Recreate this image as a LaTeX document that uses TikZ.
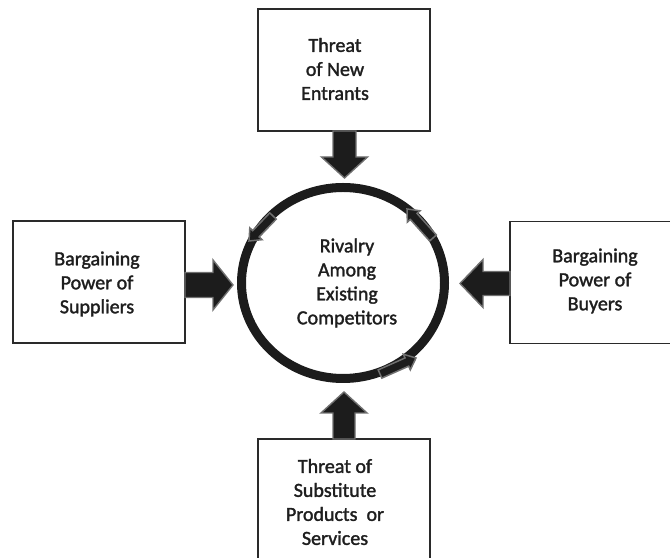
\documentclass[tikz,border=0pt]{standalone}
\usepackage{fontspec}
\setmainfont{Carlito}[FakeBold=1.6]
\usetikzlibrary{calc,shapes.geometric}

\definecolor{ink}{HTML}{1C1C1C}
\definecolor{edgegrey}{HTML}{707070}
\definecolor{boxline}{HTML}{2A2A2A}
\definecolor{textc}{HTML}{1E1E1E}

% Block arrow from #2 to #3: #4 half shaft width, #5 half head width, #6 head length
\newcommand\forcearrow[6]{%
  \coordinate (fa-base) at ($(#3)!#6!(#2)$);
  \filldraw[#1] ($(#2)!#4!90:(#3)$) -- ($(fa-base)!#4!90:(#3)$)
    -- ($(fa-base)!#5!90:(#3)$) -- (#3) -- ($(fa-base)!#5!-90:(#3)$)
    -- ($(fa-base)!#4!-90:(#3)$) -- ($(#2)!#4!-90:(#3)$) -- cycle;
}

\tikzset{
  forcebox/.style={draw=boxline, line width=1.6bp, fill=white,
    minimum width=172bp, minimum height=122bp, inner sep=0pt, outer sep=0pt},
  forcetext/.style={text=textc, align=center, inner sep=0pt,
    font=\fontsize{20bp}{24bp}\selectfont},
  rivalring/.style={draw=ink, line width=9bp, ellipse,
    minimum width=203bp, minimum height=191bp, inner sep=0pt, outer sep=0pt},
  bigarrow/.style={fill=ink, draw=edgegrey, line width=1.4bp, line join=miter},
  cyclearrow/.style={fill=ink, draw=edgegrey, line width=1.5bp, line join=miter},
}

\begin{document}
\begin{tikzpicture}[x=1bp, y=1bp]
  \useasboundingbox (0,0) rectangle (670,558);
  \clip (0,0) rectangle (670,558);

  % the four forces around the centre
  \node[forcebox] (entrants)   at (344,488)   {};
  \node[forcebox] (suppliers)  at (99,276)    {};
  \node[forcebox] (buyers)     at (596,275.5) {};
  \node[forcebox] (substitute) at (344,58)    {};

  \node[forcetext] (entrantsT)   at (335,489) {Threat\\of New\\Entrants};
  \node[forcetext] (suppliersT)  at (97,274)  {Bargaining\\Power of\\Suppliers};
  \node[forcetext] (buyersT)     at (595,277) {Bargaining\\Power of\\Buyers};
  \node[forcetext] (substituteT) at (335,56)  {Threat of\\Substitute\\Products~~or\\Services};

  % central rivalry ring
  \node[rivalring] (rival) at (343,275) {};
  \node[forcetext] (rivalT) at (347,275) {Rivalry\\Among\\Existing\\Competitors};

  % tips of the force arrows, just outside the ring
  \coordinate (tipN) at ($(rival.north)+(1.5,9.5)$);
  \coordinate (tipW) at ($(rival.west)+(-8.5,-2)$);
  \coordinate (tipE) at ($(rival.east)+(15.5,-0.5)$);
  \coordinate (tipS) at ($(rival.south)+(1,-13.5)$);

  \coordinate (tailN) at ($(entrants.south)+(0.5,0)$);
  \coordinate (tailW) at ($(suppliers.east)+(0,-3)$);
  \coordinate (tailE) at ($(buyers.west)+(0,-1)$);
  \coordinate (tailS) at (substitute.north);

  \forcearrow{bigarrow}{tailN}{tipN}{11.5bp}{23bp}{21bp}
  \forcearrow{bigarrow}{tailW}{tipW}{12.5bp}{25bp}{20bp}
  \forcearrow{bigarrow}{tailE}{tipE}{12bp}{24bp}{23bp}
  \forcearrow{bigarrow}{tailS}{tipS}{11bp}{23bp}{21bp}

  % small arrows running counter-clockwise round the ring
  \coordinate (c1s) at (273,342);
  \coordinate (c1t) at (249,317);
  \coordinate (c2s) at (433,320);
  \coordinate (c2t) at (407,349);
  \coordinate (c3s) at (380,184);
  \coordinate (c3t) at (416,200);

  \forcearrow{cyclearrow}{c1s}{c1t}{4.5bp}{8.5bp}{10bp}
  \forcearrow{cyclearrow}{c2s}{c2t}{4.5bp}{8.5bp}{10bp}
  \forcearrow{cyclearrow}{c3s}{c3t}{4.5bp}{8.5bp}{10bp}
\end{tikzpicture}
\end{document}
